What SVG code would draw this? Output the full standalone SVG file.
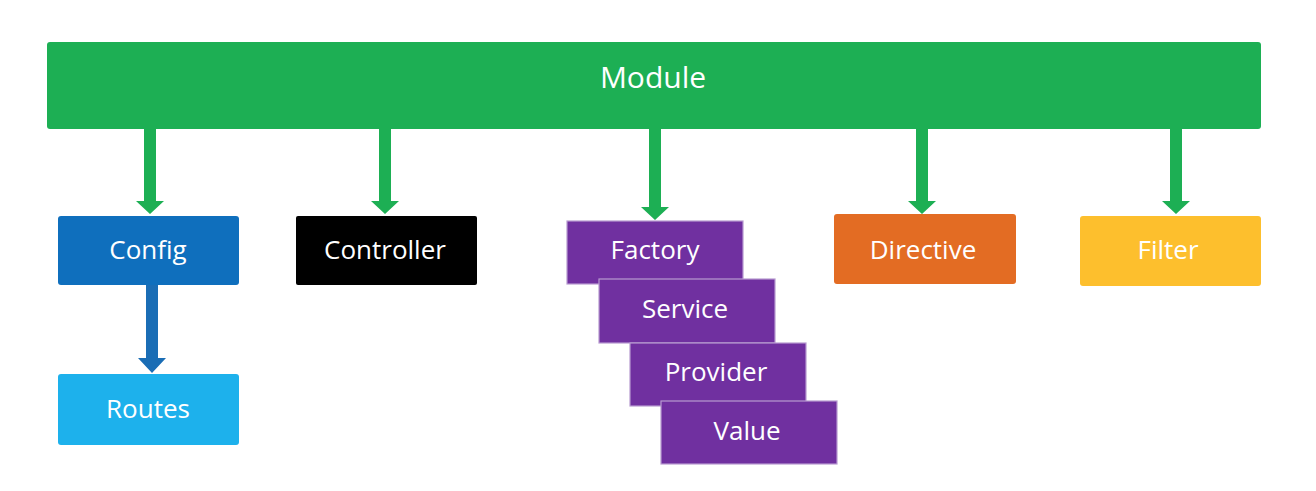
<svg xmlns="http://www.w3.org/2000/svg" width="1316" height="491" viewBox="0 0 1316 491">
<style>
text{font-family:"Open Sans","Noto Sans","Liberation Sans",sans-serif;fill:#fff;text-anchor:middle}
.lbl{font-size:26px}
.purple{fill:#7030a0;stroke:#b79ad0;stroke-width:1.2}
.ga{fill:#1daf54}
.ba{fill:#1a6db5}
</style>
<rect width="1316" height="491" fill="#fff"/>
<g id="connectors">
<path class="ga" d="M144,129h12v72h8l-14,13l-14,-13h8z"/>
<path class="ga" d="M379,129h12v72h8l-14,13l-14,-13h8z"/>
<path class="ga" d="M649,129h12v78h8l-14,13l-14,-13h8z"/>
<path class="ga" d="M916,129h12v72h8l-14,13l-14,-13h8z"/>
<path class="ga" d="M1170,129h12v72h8l-14,13l-14,-13h8z"/>
<path class="ba" d="M146,285h12v73h8l-14,15l-14,-15h8z"/>
</g>
<g id="module"><rect x="47" y="42" width="1214" height="87" rx="3" fill="#1daf54"/><text x="653" y="88" font-size="30">Module</text></g>
<g id="config"><rect x="58" y="216" width="181" height="69" rx="3" fill="#0f6fbd"/><text class="lbl" x="148" y="259">Config</text></g>
<g id="routes"><rect x="58" y="374" width="181" height="71" rx="3" fill="#1db1ec"/><text class="lbl" x="148" y="418">Routes</text></g>
<g id="controller"><rect x="296" y="216" width="181" height="69" rx="2" fill="#000"/><text class="lbl" x="385" y="259">Controller</text></g>
<g id="factory"><rect class="purple" x="567" y="221" width="176" height="63"/><text class="lbl" x="655" y="259">Factory</text></g>
<g id="service"><rect class="purple" x="599" y="279" width="176" height="64"/><text class="lbl" x="685" y="318">Service</text></g>
<g id="provider"><rect class="purple" x="630" y="343" width="176" height="63"/><text class="lbl" x="716" y="381">Provider</text></g>
<g id="value"><rect class="purple" x="661" y="401" width="176" height="63"/><text class="lbl" x="747" y="440">Value</text></g>
<g id="directive"><rect x="834" y="214" width="182" height="70" rx="3" fill="#e36c23"/><text class="lbl" x="923" y="259">Directive</text></g>
<g id="filter"><rect x="1080" y="216" width="181" height="70" rx="3" fill="#fdbf2d"/><text class="lbl" x="1168" y="259">Filter</text></g>
</svg>
